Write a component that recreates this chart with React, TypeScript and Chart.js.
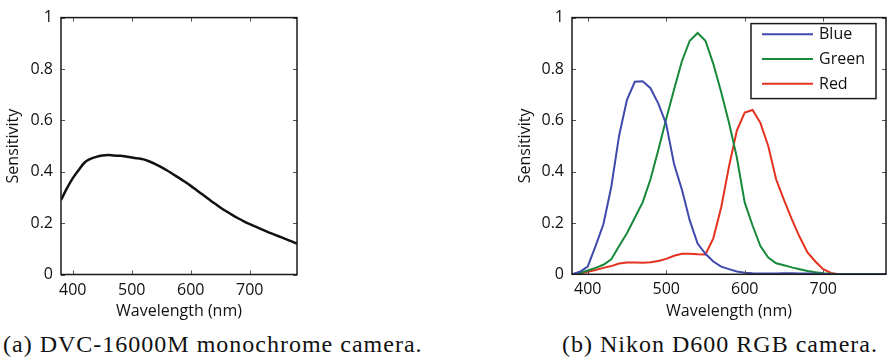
import React, { useEffect, useRef } from "react";
import { Chart, registerables } from "chart.js";
Chart.register(...registerables);

const wavelengths = [380, 390, 400, 410, 420, 430, 440, 450, 460, 470, 480, 490, 500, 510, 520, 530, 540, 550, 560, 570, 580, 590, 600, 610, 620, 630, 640, 650, 660, 670, 680, 690, 700, 710, 720, 730, 740, 750, 760, 770, 780];
const monoSensitivity = [0.29, 0.335, 0.375, 0.407, 0.436, 0.45, 0.458, 0.463, 0.465, 0.463, 0.462, 0.459, 0.455, 0.452, 0.448, 0.44, 0.43, 0.418, 0.405, 0.39, 0.376, 0.361, 0.345, 0.328, 0.311, 0.294, 0.277, 0.261, 0.246, 0.232, 0.219, 0.207, 0.196, 0.186, 0.176, 0.166, 0.157, 0.148, 0.139, 0.13, 0.12];
const blueSensitivity = [0, 0.01, 0.03, 0.11, 0.195, 0.34, 0.54, 0.68, 0.75, 0.752, 0.725, 0.665, 0.585, 0.43, 0.33, 0.21, 0.12, 0.08, 0.05, 0.03, 0.02, 0.011, 0.006, 0.004, 0.003, 0.003, 0.003, 0.004, 0.004, 0.003, 0.003, 0.002, 0.001, 0, 0, 0, 0, 0, 0, 0, 0];
const greenSensitivity = [0, 0.005, 0.015, 0.025, 0.037, 0.058, 0.11, 0.16, 0.22, 0.28, 0.37, 0.485, 0.605, 0.72, 0.83, 0.91, 0.94, 0.91, 0.82, 0.71, 0.59, 0.455, 0.28, 0.19, 0.11, 0.065, 0.043, 0.035, 0.027, 0.02, 0.013, 0.008, 0.004, 0.002, 0, 0, 0, 0, 0, 0, 0];
const redSensitivity = [0, 0.003, 0.01, 0.017, 0.025, 0.032, 0.042, 0.046, 0.046, 0.045, 0.047, 0.052, 0.06, 0.072, 0.08, 0.08, 0.078, 0.077, 0.14, 0.26, 0.42, 0.56, 0.63, 0.64, 0.59, 0.5, 0.37, 0.29, 0.215, 0.145, 0.085, 0.05, 0.02, 0.005, 0, 0, 0, 0, 0, 0, 0];
const xTicks = [400, 500, 600, 700];
const yTicks = [0, 0.2, 0.4, 0.6, 0.8, 1];
const rgbLabels = ["Blue", "Green", "Red"];
const rgbColors = ["#4049ac", "#17893a", "#e4321f"];

const SANS = "'Open Sans', sans-serif";
const SERIF = "'Liberation Serif', 'DejaVu Serif', serif";

const frameTicks = {
  id: "frameTicks",
  afterDraw(chart: any) {
    const { ctx, chartArea: a } = chart;
    const xs = chart.scales.x;
    const ys = chart.scales.y;
    ctx.save();
    ctx.strokeStyle = "#555";
    ctx.lineWidth = 1;
    const tl = 4;
    ctx.beginPath();
    xTicks.forEach((v) => {
      const px = Math.round(xs.getPixelForValue(v)) + 0.5;
      ctx.moveTo(px, a.bottom);
      ctx.lineTo(px, a.bottom - tl);
      ctx.moveTo(px, a.top);
      ctx.lineTo(px, a.top + tl);
    });
    yTicks.forEach((v) => {
      const py = Math.round(ys.getPixelForValue(v)) + 0.5;
      ctx.moveTo(a.left, py);
      ctx.lineTo(a.left + tl, py);
      ctx.moveTo(a.right, py);
      ctx.lineTo(a.right - tl, py);
    });
    ctx.stroke();
    ctx.strokeStyle = "#1a1a1a";
    ctx.lineWidth = 1.5;
    ctx.strokeRect(a.left, a.top, a.right - a.left, a.bottom - a.top);
    ctx.restore();
  },
};

const boxLegend = {
  id: "boxLegend",
  afterDraw(chart: any, _args: any, opts: any) {
    if (!opts || !opts.show) return;
    const { ctx, chartArea: a } = chart;
    const w = 125;
    const h = 75;
    const x0 = a.right - 10 - w;
    const y0 = a.top + 6;
    ctx.save();
    ctx.fillStyle = "#fff";
    ctx.fillRect(x0, y0, w, h);
    ctx.strokeStyle = "#1a1a1a";
    ctx.lineWidth = 1.5;
    ctx.strokeRect(x0, y0, w, h);
    ctx.font = `16px ${SANS}`;
    ctx.textBaseline = "middle";
    chart.data.datasets.forEach((ds: any, i: number) => {
      const y = y0 + 10.7 + i * 24.7;
      ctx.strokeStyle = ds.borderColor;
      ctx.lineWidth = 2;
      ctx.beginPath();
      ctx.moveTo(x0 + 11, y);
      ctx.lineTo(x0 + 62, y);
      ctx.stroke();
      ctx.fillStyle = "#111";
      ctx.fillText(ds.label, x0 + 68, y + 0.5);
    });
    ctx.restore();
  },
};

function makeOptions(yWidth: number, xHeight: number, pad: any, legend: boolean) {
  const tickFont = { family: SANS, size: 16 };
  return {
    responsive: false,
    animation: false as const,
    layout: { padding: pad },
    plugins: {
      legend: { display: false },
      tooltip: { enabled: false },
      boxLegend: { show: legend },
    },
    elements: { point: { radius: 0 } },
    scales: {
      x: {
        type: "linear" as const,
        min: 380,
        max: 780,
        grid: { display: false, drawTicks: false, tickLength: 0 },
        border: { display: false },
        ticks: { font: tickFont, color: "#111", padding: 6, maxRotation: 0, autoSkip: false, callback: (v: any) => String(v) },
        afterBuildTicks: (s: any) => { s.ticks = xTicks.map((v) => ({ value: v })); },
        afterFit: (s: any) => { s.height = xHeight; },
        title: { display: true, text: "Wavelength (nm)", font: tickFont, color: "#111", padding: { top: 0, bottom: 4 } },
      },
      y: {
        min: 0,
        max: 1,
        grid: { display: false, drawTicks: false, tickLength: 0 },
        border: { display: false },
        ticks: { font: tickFont, color: "#111", padding: 8, callback: (v: any) => String(v) },
        afterBuildTicks: (s: any) => { s.ticks = yTicks.map((v) => ({ value: v })); },
        afterFit: (s: any) => { s.width = yWidth; },
        title: { display: true, text: "Sensitivity", font: tickFont, color: "#111", padding: { top: 3.5, bottom: 0 } },
      },
    },
  };
}

function MonoChart() {
  const ref = useRef<HTMLCanvasElement>(null);
  useEffect(() => {
    const chart = new Chart(ref.current!, {
      type: "line",
      data: {
        datasets: [
          {
            label: "Monochrome",
            data: wavelengths.map((w, i) => ({ x: w, y: monoSensitivity[i] })),
            borderColor: "#111",
            borderWidth: 2.5,
            cubicInterpolationMode: "monotone",
          },
        ],
      },
      options: makeOptions(61, 50.5, { left: 0, right: 13, top: 7.3, bottom: 0 }, false) as any,
      plugins: [frameTicks, boxLegend],
    });
    return () => chart.destroy();
  }, []);
  return <canvas ref={ref} width={310} height={325} style={{ position: "absolute", left: 0, top: 0 }} />;
}

function RgbChart() {
  const ref = useRef<HTMLCanvasElement>(null);
  useEffect(() => {
    const series = [blueSensitivity, greenSensitivity, redSensitivity];
    const chart = new Chart(ref.current!, {
      type: "line",
      data: {
        datasets: series.map((s, k) => ({
          label: rgbLabels[k],
          data: wavelengths.map((w, i) => ({ x: w, y: s[i] })),
          borderColor: rgbColors[k],
          borderWidth: 2,
        })),
      },
      options: makeOptions(60, 50.7, { left: 0, right: 1, top: 10, bottom: 0 }, true) as any,
      plugins: [frameTicks, boxLegend],
    });
    return () => chart.destroy();
  }, []);
  return <canvas ref={ref} width={375} height={325} style={{ position: "absolute", left: 512, top: 0 }} />;
}

export default function App() {
  const cap: React.CSSProperties = {
    position: "absolute",
    top: 331,
    fontFamily: SERIF,
    fontSize: 24,
    letterSpacing: "1px",
    color: "#111",
    whiteSpace: "nowrap",
    lineHeight: "26px",
  };
  return (
    <div style={{ position: "absolute", left: 0, top: 0, width: 887, height: 363, background: "#fff", overflow: "hidden" }}>
      <MonoChart />
      <RgbChart />
      <div style={{ ...cap, left: 3 }}>(a) DVC-16000M monochrome camera.</div>
      <div style={{ ...cap, left: 562 }}>(b) Nikon D600 RGB camera.</div>
    </div>
  );
}
